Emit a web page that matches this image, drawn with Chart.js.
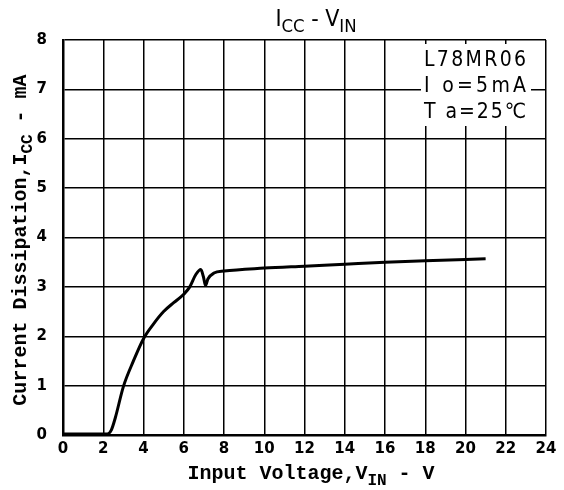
<!DOCTYPE html>
<html>
<head>
<meta charset="utf-8">
<script src="https://cdn.jsdelivr.net/npm/chart.js@4"></script>
<style>
  html, body { margin:0; padding:0; background:#fff; }
  #wrap { width:564px; height:490px; position:relative; }
</style>
</head>
<body>
<div id="wrap"><canvas id="c" width="564" height="490"></canvas></div>
<script>
// ── Data (V_IN in volts, I_CC in mA) ────────────────────────────
const vin = [0, 1, 2.2, 2.4, 2.6, 3.0, 3.5, 4.0, 4.5, 5.0, 5.5, 6.0, 6.3, 6.6, 6.85, 6.98, 7.08, 7.2, 7.5, 8, 10, 12, 14, 16, 18, 21];
const icc = [0.02, 0.02, 0.02, 0.1, 0.35, 0.98, 1.5, 1.95, 2.25, 2.5, 2.68, 2.85, 3.0, 3.25, 3.35, 3.2, 3.03, 3.16, 3.28, 3.32, 3.38, 3.42, 3.46, 3.5, 3.53, 3.57];
const xTicks = [0, 2, 4, 6, 8, 10, 12, 14, 16, 18, 20, 22, 24];
const yTicks = [0, 1, 2, 3, 4, 5, 6, 7, 8];
const noteLines = ["L78MR06", "I o=5mA", "T a=25℃"];

const TICK_FONT = { family:"'DejaVu Sans'", size:15, weight:"bold" };
const MONO = "'Liberation Mono', 'DejaVu Sans Mono', monospace";
const SANS = "'DejaVu Sans Condensed', 'DejaVu Sans'";

// mixed normal/subscript text; returns width
function drawParts(ctx, parts, x, y, size, fam, bold, draw) {
  let cx = x;
  parts.forEach(p => {
    const s = p.sub ? size*0.8 : size;
    ctx.font = `${bold ? "bold " : ""}${s}px ${fam}`;
    if (draw) ctx.fillText(p.t, cx, y + (p.sub ? size*0.28 : 0));
    cx += ctx.measureText(p.t).width;
  });
  return cx - x;
}

const labelsPlugin = {
  id: "labels",
  afterDraw(chart) {
    const ctx = chart.ctx, a = chart.chartArea;
    ctx.save();
    ctx.fillStyle = "#000";
    ctx.textBaseline = "alphabetic";
    ctx.textAlign = "left";

    // title  I_CC - V_IN
    const tParts = [{t:"I"},{t:"CC",sub:true},{t:" - V"},{t:"IN",sub:true}];
    const tw = drawParts(ctx, tParts, 0, 0, 23, SANS, false, false);
    drawParts(ctx, tParts, 316 - tw/2, 26, 23, SANS, false, true);

    // x axis title
    const xParts = [{t:"Input Voltage,V"},{t:"IN",sub:true},{t:" - V"}];
    const xw = drawParts(ctx, xParts, 0, 0, 20, MONO, true, false);
    drawParts(ctx, xParts, 311 - xw/2, 479, 20, MONO, true, true);

    // y axis title (rotated)
    const yParts = [{t:"Current Dissipation,I"},{t:"CC",sub:true},{t:" - mA"}];
    const yw = drawParts(ctx, yParts, 0, 0, 20, MONO, true, false);
    ctx.save();
    ctx.translate(26, 240);
    ctx.rotate(-Math.PI/2);
    drawParts(ctx, yParts, -yw/2, 0, 20, MONO, true, true);
    ctx.restore();

    // condition box in the top right corner
    ctx.fillStyle = "#fff";
    ctx.fillRect(421, 44, 110, 82);
    ctx.fillStyle = "#000";
    ctx.font = `21px ${SANS}`;
    noteLines.forEach((s, i) => {
      const w = ctx.measureText(s).width;
      const sp = (102 - w) / (s.length - 1);
      let cx = 424;
      for (const ch of s) { ctx.fillText(ch, cx, 66 + i*26); cx += ctx.measureText(ch).width + sp; }
    });
    ctx.restore();
  }
};

new Chart(document.getElementById("c"), {
  type: "line",
  data: {
    datasets: [{
      data: vin.map((v, i) => ({ x:v, y:icc[i] })),
      borderColor: "#000",
      borderWidth: 3,
      pointRadius: 0,
      cubicInterpolationMode: "monotone",
      fill: false
    }]
  },
  options: {
    responsive: false,
    animation: false,
    layout: { padding: { left:0, top:40, right:18, bottom:0 } },
    plugins: { legend:{ display:false }, tooltip:{ enabled:false } },
    scales: {
      x: {
        type: "linear", min: 0, max: 24,
        afterBuildTicks: s => { s.ticks = xTicks.map(v => ({ value:v })); },
        afterFit: s => { s.height = 55; },
        grid: { color:"#000", lineWidth:1.5, drawTicks:false },
        border: { color:"#000", width:2.5 },
        ticks: { color:"#000", font:TICK_FONT, padding:5, maxRotation:0 }
      },
      y: {
        min: 0, max: 8,
        afterBuildTicks: s => { s.ticks = yTicks.map(v => ({ value:v })); },
        afterFit: s => { s.width = 63; },
        grid: { color:"#000", lineWidth:1.5, drawTicks:false },
        border: { color:"#000", width:2.5 },
        ticks: { color:"#000", font:TICK_FONT, padding:16 }
      }
    }
  },
  plugins: [labelsPlugin]
});
</script>
</body>
</html>
